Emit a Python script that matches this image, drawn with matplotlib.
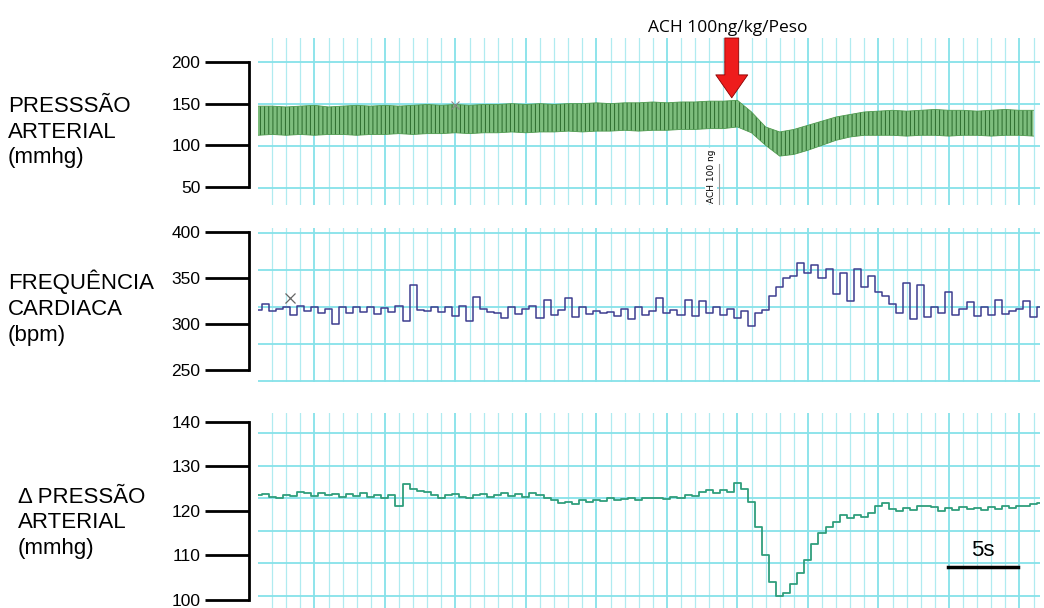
import numpy as np
import matplotlib.pyplot as plt

plt.rcParams['font.family'] = ['Liberation Sans', 'DejaVu Sans']
plt.rcParams['hatch.linewidth'] = 0.7

# pulsatile arterial pressure envelope, one reading per second (mmHg)
t_pa = np.arange(1, 57)
pa_sys = [147, 147, 146, 147, 148, 146, 147, 148, 147, 148,
          147, 148, 149, 148, 149, 148, 149, 149, 150, 149,
          150, 149, 150, 150, 151, 150, 151, 151, 152, 151,
          152, 152, 153, 153, 154, 140, 122, 116, 119, 124,
          129, 134, 137, 140, 141, 142, 141, 142, 143, 142,
          142, 141, 142, 143, 142, 142]
pa_dia = [112, 113, 112, 113, 112, 113, 113, 112, 113, 113,
          114, 113, 114, 114, 115, 114, 115, 115, 116, 115,
          116, 116, 117, 116, 117, 117, 118, 117, 118, 118,
          119, 119, 120, 120, 122, 115, 100, 87, 89, 94,
          100, 106, 110, 112, 112, 112, 111, 112, 112, 111,
          112, 112, 111, 112, 112, 111]

# heart rate, one reading per half second (bpm)
t_hr = np.linspace(1, 56.5, 112)
hr = [315, 322, 314, 316, 318, 310, 320, 314, 318, 312,
      316, 300, 318, 312, 319, 313, 318, 311, 317, 313,
      320, 303, 342, 315, 314, 319, 313, 318, 309, 320,
      303, 329, 316, 313, 312, 306, 318, 311, 316, 320,
      306, 326, 310, 315, 328, 308, 318, 311, 314, 312,
      313, 309, 316, 305, 319, 310, 314, 328, 312, 315,
      310, 326, 309, 325, 312, 318, 310, 316, 307, 314,
      298, 312, 315, 330, 340, 350, 352, 366, 355, 364,
      350, 360, 333, 355, 325, 360, 340, 352, 335, 330,
      322, 312, 345, 305, 342, 308, 318, 312, 335, 310,
      316, 324, 309, 318, 310, 326, 311, 314, 316, 325,
      308, 318]

# mean arterial pressure, one reading per half second (mmHg)
dpa = [123.5, 123.8, 123.2, 123.0, 123.6, 123.3, 124.2, 124.0, 123.4, 124.0,
       123.6, 123.8, 123.2, 123.7, 123.4, 124.0, 123.2, 123.5, 122.9, 123.6,
       121.0, 126.0, 125.0, 124.4, 124.2, 123.5, 123.0, 123.6, 123.8, 123.2,
       123.0, 123.5, 123.8, 123.2, 123.6, 124.0, 123.4, 123.8, 123.2, 124.0,
       123.5, 122.8, 122.4, 121.8, 122.0, 121.5, 122.4, 122.0, 122.5, 122.2,
       122.8, 122.4, 122.6, 122.9, 122.5, 123.0, 122.8, 123.0, 122.6, 123.2,
       123.0, 123.6, 123.4, 124.2, 124.6, 124.0, 124.8, 124.2, 126.2, 125.0,
       122.0, 116.5, 110.0, 104.0, 101.0, 101.5, 103.5, 106.0, 109.0, 112.5,
       115.0, 116.5, 117.5, 119.0, 118.5, 119.2, 118.6, 119.6, 121.0, 121.8,
       120.4, 120.0, 120.6, 120.2, 121.2, 121.0, 120.8, 120.0, 120.6, 120.2,
       120.8, 120.4, 120.6, 120.2, 120.9, 120.5, 121.0, 120.6, 121.2, 121.0,
       121.6, 121.8]

t_ach = 34.6      # injection time (s)
t_mark = 33.7     # recorder event mark
marks_pa = (15.0, 148)
marks_hr = (3.3, 328)

W, H = 1044, 608
T0, T1 = 1.0, 56.46
fig = plt.figure(figsize=(W / 100, H / 100), dpi=100)


def box(x0, y0, x1, y1):
    return [x0 / W, 1 - y1 / H, (x1 - x0) / W, (y1 - y0) / H]


def grid_axes(rect, top, bottom, first, step):
    g = fig.add_axes(rect)
    g.set_xlim(T0, T1)
    g.set_ylim(bottom, top)
    g.set_xticks([])
    g.set_yticks([])
    # 1 s chart divisions, heavier every 5 s
    for s in np.arange(2, T1, 1):
        heavy = s % 5 == 0
        g.axvline(s, color='#86e2e9' if heavy else '#b0ebf0',
                  lw=1.3 if heavy else 0.9, zorder=1 if heavy else 0)
    for y in np.arange(first, bottom, step):
        g.axhline(y, color='#86e2e9', lw=1.3, zorder=1)
    for s in g.spines.values():
        s.set_visible(False)
    return g


def data_axes(rect, ylim, bounds, ticks):
    ax = fig.add_axes(rect, facecolor='none')
    ax.set_xlim(T0, T1)
    ax.set_ylim(*ylim)
    for s in ['top', 'right', 'bottom']:
        ax.spines[s].set_visible(False)
    ax.spines['left'].set_position(('outward', 6.5))
    ax.spines['left'].set_bounds(*bounds)
    ax.spines['left'].set_linewidth(2.0)
    ax.set_yticks(ticks)
    ax.tick_params(axis='y', length=31.5, width=2.0, pad=3.5, labelsize=12.5)
    ax.set_xticks([])
    return ax


r1 = box(258, 38, 1040, 205)
r2 = box(258, 228, 1040, 382)
r3 = box(258, 413, 1040, 608)
grid_axes(r1, 38, 205, 62, 42)
grid_axes(r2, 228, 382, 233, 37)
grid_axes(r3, 413, 608, 433, 32.5)

# top: pulsatile pressure
ax1 = data_axes(r1, (28.3, 228.8), (50, 200), [50, 100, 150, 200])
ax1.fill_between(t_pa, pa_dia, pa_sys, facecolor='#7dbd7d', edgecolor='#2a6a2c',
                 hatch='||||', lw=0)
ax1.plot(t_pa, pa_sys, color='#4f9a4f', lw=0.6)
ax1.plot(t_pa, pa_dia, color='#4f9a4f', lw=0.6)
ax1.plot(*marks_pa, marker='x', color='#888888', ms=6, mew=0.8)
ax1.annotate('', xy=(t_ach, 157), xytext=(t_ach, 228.8), annotation_clip=False,
             arrowprops=dict(arrowstyle='simple,head_length=1.65,head_width=2.3,tail_width=1.0',
                             mutation_scale=10, fc='#ee1c1c', ec='#8a0000', lw=0.6,
                             shrinkA=0, shrinkB=0))
ax1.text(t_ach - 0.3, 241, 'ACH 100ng/kg/Peso', ha='center', va='center',
         fontsize=12.5, family=['Open Sans', 'DejaVu Sans'], clip_on=False)
ax1.plot([t_mark, t_mark], [30, 78], color='#999999', lw=0.8, clip_on=False)
ax1.text(t_mark - 0.55, 31, 'ACH 100 ng', rotation=90, ha='center', va='bottom',
         fontsize=6.5, family=['DejaVu Sans'],
         bbox=dict(fc='white', ec='none', pad=1.0))

# middle: heart rate
ax2 = data_axes(r2, (237, 404.3), (250, 400), [250, 300, 350, 400])
ax2.plot(t_hr, hr, drawstyle='steps-mid', color='#3d3d8f', lw=1.1)
ax2.plot(*marks_hr, marker='x', color='#666666', ms=7, mew=0.9)

# bottom: mean pressure
ax3 = data_axes(r3, (98.2, 142.0), (100, 140), [100, 110, 120, 130, 140])
ax3.plot(t_hr, dpa, drawstyle='steps-mid', color='#2f9e7c', lw=1.3)
ax3.plot([49.9, 54.9], [107.4, 107.4], color='black', lw=2.5)
ax3.text(52.4, 108.8, '5s', ha='center', va='bottom', fontsize=16)

lab = dict(ha='left', va='center', fontsize=16, linespacing=1.3)
fig.text(8 / W, 1 - 132 / H, 'PRESSSÃO\nARTERIAL\n(mmhg)', **lab)
fig.text(8 / W, 1 - 308 / H, 'FREQUÊNCIA\nCARDIACA\n(bpm)', **lab)
fig.text(18 / W, 1 - 523 / H, 'Δ PRESSÃO\nARTERIAL\n(mmhg)', **lab)

fig.savefig('out.png', dpi=100)
